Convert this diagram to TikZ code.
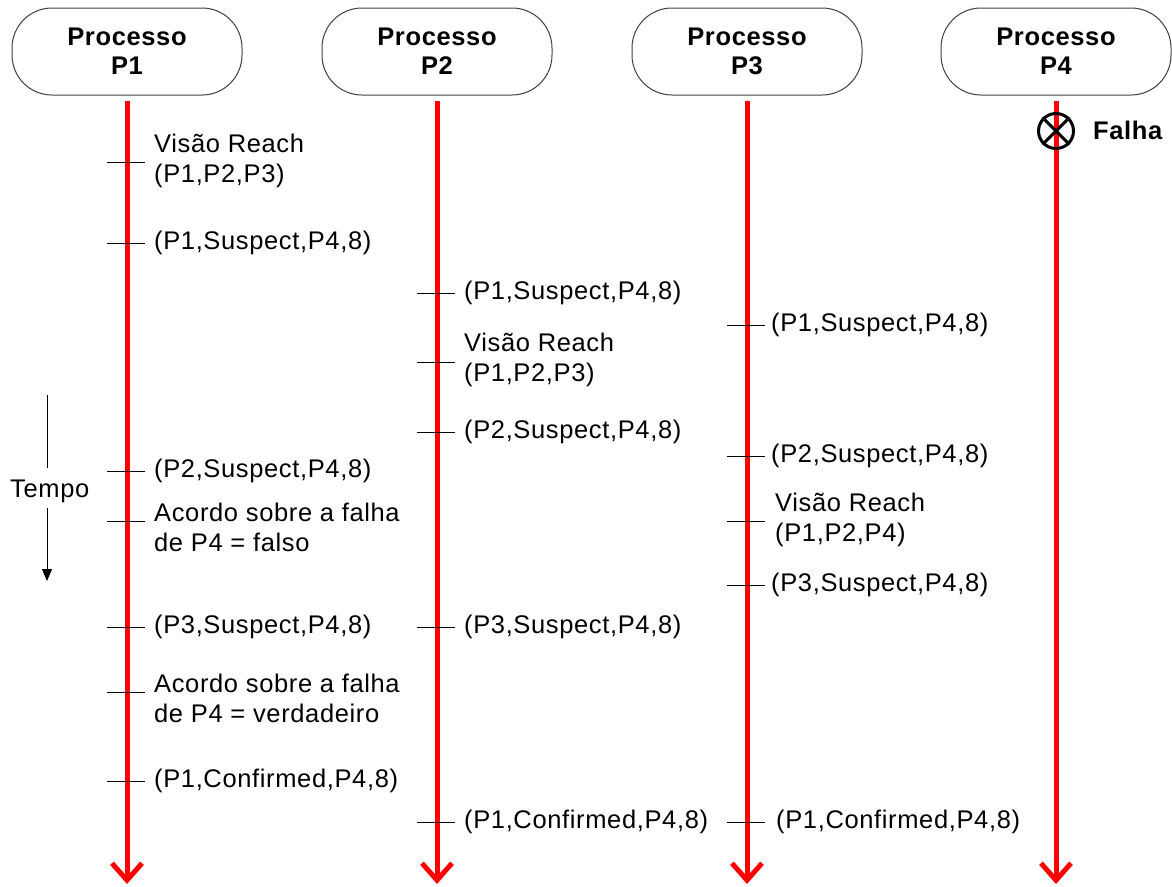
\documentclass[tikz,border=0pt]{standalone}
\usepackage{fontspec}
\setmainfont[LetterSpace=2.5]{Liberation Sans}
\usetikzlibrary{arrows.meta}
\begin{document}
\begin{tikzpicture}[x=1pt,y=-1pt,
  proc/.style={draw=black!75, line width=1pt, rounded corners=40pt,
    minimum width=230pt, minimum height=87pt, align=center,
    font=\fontsize{25.5}{29}\selectfont\bfseries, inner sep=0pt},
  life/.style={draw=red, line width=5pt, shorten <=5pt,
    -{Straight Barb[length=17pt,width=30pt,line width=5pt]}},
  tick/.style={draw=black, line width=1pt},
  lbl/.style={anchor=west, align=left, inner sep=0pt,
    font=\fontsize{25.5}{30}\selectfont},
]
\useasboundingbox (0,0) rectangle (1172,886);

% process headers
\node[proc] (h1) at (127,51.5) {Processo\\P1};
\node[proc] (h2) at (437,51.5) {Processo\\P2};
\node[proc] (h3) at (747,51.5) {Processo\\P3};
\node[proc] (h4) at (1056,51.5) {Processo\\P4};

% lifeline ends
\coordinate (e1) at (127,884);
\coordinate (e2) at (437,884);
\coordinate (e3) at (747,884);
\coordinate (e4) at (1056,884);

\foreach \i in {1,2,3,4} \draw[life] (h\i.south) -- (e\i);

% failure mark on P4
\node[draw=black, line width=3pt, circle, minimum size=35pt, inner sep=0pt] (fx) at (1056,131) {};
\draw[black, line width=3pt] (fx.north west) -- (fx.south east)
  (fx.north east) -- (fx.south west);
\node[lbl, font=\fontsize{25.5}{30}\selectfont\bfseries] (falha) at (1093,130) {Falha};

% events on P1
\foreach \y in {162,243,471,521,627,692,781}
  \draw[tick] (107,\y) -- (145,\y);
\node[lbl] (a1) at (154,161) {Visão Reach\\(P1,P2,P3)};
\node[lbl] (a2) at (154,243) {(P1,Suspect,P4,8)};
\node[lbl] (a3) at (154,471) {(P2,Suspect,P4,8)};
\node[lbl] (a4) at (154,527) {Acordo sobre a falha\\de P4 = falso};
\node[lbl] (a5) at (154,627) {(P3,Suspect,P4,8)};
\node[lbl] (a6) at (154,698) {Acordo sobre a falha\\de P4 = verdadeiro};
\node[lbl] (a7) at (154,781) {(P1,Confirmed,P4,8)};

% events on P2
\foreach \y in {293,362,432,627,822}
  \draw[tick] (417,\y) -- (455,\y);
\node[lbl] (b1) at (464,293) {(P1,Suspect,P4,8)};
\node[lbl] (b2) at (464,360) {Visão Reach\\(P1,P2,P3)};
\node[lbl] (b3) at (464,432) {(P2,Suspect,P4,8)};
\node[lbl] (b4) at (464,627) {(P3,Suspect,P4,8)};
\node[lbl] (b5) at (464,822) {(P1,Confirmed,P4,8)};

% events on P3
\foreach \y in {325,456,521,585}
  \draw[tick] (727,\y) -- (765,\y);
\draw[tick] (727,822) -- (765,822);
\node[lbl] (c1) at (771,325) {(P1,Suspect,P4,8)};
\node[lbl] (c2) at (771,456) {(P2,Suspect,P4,8)};
\node[lbl] (c3) at (775,520) {Visão Reach\\(P1,P2,P4)};
\node[lbl] (c4) at (771,585) {(P3,Suspect,P4,8)};
\node[lbl] (c5) at (776,822) {(P1,Confirmed,P4,8)};

% time axis
\node[lbl] (tempo) at (10,491) {Tempo};
\coordinate (t0) at (47,395);
\coordinate (t1) at (47,468);
\coordinate (t2) at (47,508);
\coordinate (t3) at (47,581);
\draw[black, line width=1pt] (t0) -- (t1);
\draw[black, line width=1pt, -{Triangle[length=12pt,width=10pt]}] (t2) -- (t3);
\end{tikzpicture}
\end{document}
